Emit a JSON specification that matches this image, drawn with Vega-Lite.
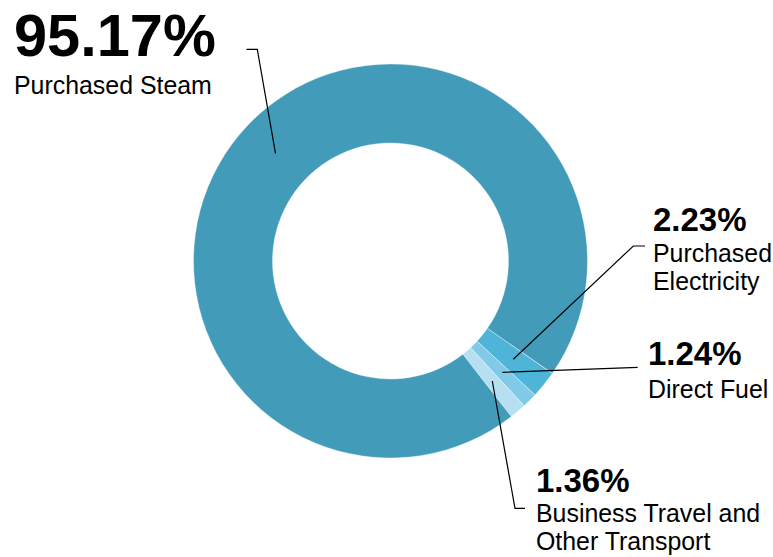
{
  "$schema": "https://vega.github.io/schema/vega-lite/v6.json",
  "width": 765,
  "height": 522,
  "autosize": {"type": "none"},
  "padding": {"left": 8, "top": 0, "right": 0, "bottom": 35},
  "background": "white",
  "config": {"view": {"stroke": null}, "font": "Liberation Sans"},
  "datasets": {
    "emissions": [
      {"category": "Purchased Electricity", "share": 0.0223, "name": "Purchased\nElectricity", "ord": 1},
      {"category": "Direct Fuel", "share": 0.0124, "name": "Direct Fuel", "ord": 2},
      {"category": "Business Travel and Other Transport", "share": 0.0136, "name": "Business Travel and\nOther Transport", "ord": 3},
      {"category": "Purchased Steam", "share": 0.9517, "name": "Purchased Steam", "ord": 4}
    ],
    "labelpos": [
      {"category": "Purchased Steam", "lx": 6, "py": 55.5, "ny": 94},
      {"category": "Purchased Electricity", "lx": 645, "py": 231, "ny": 261.5},
      {"category": "Direct Fuel", "lx": 640, "py": 365, "ny": 398},
      {"category": "Business Travel and Other Transport", "lx": 528, "py": 491.5, "ny": 521.5}
    ],
    "leaders": [
      {"seg": "Purchased Steam", "i": 1, "x": 238.5, "y": 49.3},
      {"seg": "Purchased Steam", "i": 2, "x": 249.3, "y": 49.3},
      {"seg": "Purchased Steam", "i": 3, "x": 267.5, "y": 153.3},
      {"seg": "Purchased Electricity", "i": 1, "x": 637, "y": 246},
      {"seg": "Purchased Electricity", "i": 2, "x": 625.3, "y": 246},
      {"seg": "Purchased Electricity", "i": 3, "x": 505.3, "y": 359.3},
      {"seg": "Direct Fuel", "i": 1, "x": 629.7, "y": 367.3},
      {"seg": "Direct Fuel", "i": 2, "x": 494.3, "y": 372.3},
      {"seg": "Business Travel and Other Transport", "i": 1, "x": 517, "y": 508.3},
      {"seg": "Business Travel and Other Transport", "i": 2, "x": 507, "y": 508.3},
      {"seg": "Business Travel and Other Transport", "i": 3, "x": 484.3, "y": 381}
    ]
  },
  "layer": [
    {
      "data": {"name": "emissions"},
      "mark": {"type": "arc", "innerRadius": 118, "outerRadius": 197, "stroke": "#ffffff", "strokeWidth": 0.6, "strokeOpacity": 0.6},
      "encoding": {
        "theta": {"field": "share", "type": "quantitative", "stack": true, "scale": {"range": [2.178, 8.461]}},
        "order": {"field": "ord", "type": "quantitative"},
        "color": {
          "field": "category",
          "type": "nominal",
          "legend": null,
          "scale": {
            "domain": ["Purchased Steam", "Purchased Electricity", "Direct Fuel", "Business Travel and Other Transport"],
            "range": ["#429bb9", "#4eb5d9", "#80cae8", "#b6e0f2"]
          }
        }
      }
    },
    {
      "data": {"name": "leaders"},
      "mark": {"type": "line", "color": "#000000", "strokeWidth": 1.2},
      "encoding": {
        "x": {"field": "x", "type": "quantitative", "scale": {"domain": [0, 765], "nice": false, "zero": false}, "axis": null},
        "y": {"field": "y", "type": "quantitative", "scale": {"domain": [0, 522], "nice": false, "zero": false, "reverse": true}, "axis": null},
        "detail": {"field": "seg", "type": "nominal"},
        "order": {"field": "i", "type": "quantitative"}
      }
    },
    {
      "data": {"name": "emissions"},
      "transform": [
        {"filter": "datum.category === 'Purchased Steam'"},
        {"lookup": "category", "from": {"data": {"name": "labelpos"}, "key": "category", "fields": ["lx", "py", "ny"]}}
      ],
      "mark": {"type": "text", "align": "left", "baseline": "alphabetic", "fontSize": 59.5, "fontWeight": "bold", "font": "Liberation Sans", "color": "#000000"},
      "encoding": {
        "x": {"field": "lx", "type": "quantitative", "scale": {"domain": [0, 765], "nice": false, "zero": false}, "axis": null},
        "y": {"field": "py", "type": "quantitative", "scale": {"domain": [0, 522], "nice": false, "zero": false, "reverse": true}, "axis": null},
        "text": {"field": "share", "type": "quantitative", "format": ".2%"}
      }
    },
    {
      "data": {"name": "emissions"},
      "transform": [
        {"filter": "datum.category !== 'Purchased Steam'"},
        {"lookup": "category", "from": {"data": {"name": "labelpos"}, "key": "category", "fields": ["lx", "py", "ny"]}}
      ],
      "mark": {"type": "text", "align": "left", "baseline": "alphabetic", "fontSize": 33, "fontWeight": "bold", "font": "Liberation Sans", "color": "#000000"},
      "encoding": {
        "x": {"field": "lx", "type": "quantitative", "scale": {"domain": [0, 765], "nice": false, "zero": false}, "axis": null},
        "y": {"field": "py", "type": "quantitative", "scale": {"domain": [0, 522], "nice": false, "zero": false, "reverse": true}, "axis": null},
        "text": {"field": "share", "type": "quantitative", "format": ".2%"}
      }
    },
    {
      "data": {"name": "emissions"},
      "transform": [
        {"lookup": "category", "from": {"data": {"name": "labelpos"}, "key": "category", "fields": ["lx", "py", "ny"]}}
      ],
      "mark": {"type": "text", "align": "left", "baseline": "alphabetic", "fontSize": 24.9, "font": "Liberation Sans", "color": "#000000", "lineBreak": "\n", "lineHeight": 28.5},
      "encoding": {
        "x": {"field": "lx", "type": "quantitative", "scale": {"domain": [0, 765], "nice": false, "zero": false}, "axis": null},
        "y": {"field": "ny", "type": "quantitative", "scale": {"domain": [0, 522], "nice": false, "zero": false, "reverse": true}, "axis": null},
        "text": {"field": "name", "type": "nominal"}
      }
    }
  ]
}
